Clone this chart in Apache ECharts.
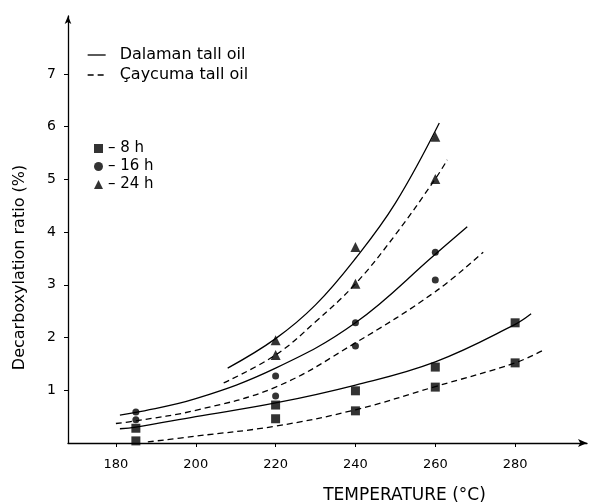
<!DOCTYPE html>
<html><head><meta charset="utf-8">
<script src="https://cdn.jsdelivr.net/npm/echarts@6/dist/echarts.min.js"></script>
<style>html,body{margin:0;padding:0;background:#fff}#c{width:589px;height:504px}</style>
</head><body><div id="c"></div>
<script>
// Measured points (temperature °C, decarboxylation ratio %)
const temps = [185, 220, 240, 260, 280];
const dal8 = [0.28, 0.72, 0.99, 1.44, 2.28];
const cay8 = [0.04, 0.46, 0.61, 1.06, 1.52];
const temps16 = [185, 220, 240, 260];
const dal16 = [0.59, 1.27, 2.28, 3.62];
const cay16 = [0.44, 0.89, 1.84, 3.09];
const temps24 = [220, 240, 260];
const dal24 = [1.95, 3.72, 5.81];
const cay24 = [1.67, 3.02, 5.01];

// Fitted curves
const curveDal24T = [208, 220, 230, 240, 250, 261];
const curveDal24V = [1.42, 1.98, 2.62, 3.5, 4.55, 6.07];
const curveCay24T = [207, 220, 230, 240, 250, 260, 263];
const curveCay24V = [1.14, 1.67, 2.3, 3.02, 3.95, 5.01, 5.37];
const curveDal16T = [181, 185, 200, 220, 240, 260, 268];
const curveDal16V = [0.53, 0.58, 0.84, 1.42, 2.28, 3.58, 4.1];
const curveCay16T = [180, 185, 200, 220, 240, 260, 272];
const curveCay16V = [0.37, 0.42, 0.62, 1.06, 1.9, 2.87, 3.62];
const curveDal8T = [181, 185, 200, 220, 240, 260, 280, 284];
const curveDal8V = [0.27, 0.3, 0.5, 0.76, 1.1, 1.54, 2.25, 2.45];
const curveCay8T = [188, 200, 220, 240, 260, 280, 287];
const curveCay8V = [0.02, 0.13, 0.32, 0.63, 1.07, 1.52, 1.76];

const xTicks = [180, 200, 220, 240, 260, 280];
const yTicks = [1, 2, 3, 4, 5, 6, 7];

const zip = (a, b) => a.map((v, i) => [v, b[i]]);
const FONT = 'DejaVu Sans';
const DAL = 'Dalaman tall oil', CAY = 'Çaycuma tall oil';

function curve(name, t, v, dashed) {
  return {
    type: 'line', name, data: zip(t, v), smooth: 0.4, symbol: 'none',
    lineStyle: { color: '#000', width: 1.3, type: dashed ? [6, 4] : 'solid' },
    itemStyle: { color: '#000' }, z: 2
  };
}
function pts(name, sym, size, t, a, b) {
  return {
    type: 'scatter', name, symbol: sym, symbolSize: size,
    data: zip(t, a).concat(zip(t, b)),
    itemStyle: { color: '#000' }, z: 3
  };
}

const chart = echarts.init(document.getElementById('c'));
chart.setOption({
  animation: false,
  backgroundColor: '#fff',
  textStyle: { fontFamily: FONT, color: '#000' },
  grid: { left: 68, top: 16, width: 519, height: 427, containLabel: false, outerBoundsMode: 'none' },
  legend: [
    {
      data: [DAL, CAY], orient: 'vertical', left: 82, top: 42, itemGap: 4,
      itemWidth: 18, itemHeight: 16,
      itemStyle: { opacity: 0 },
      lineStyle: { width: 1.3 },
      textStyle: { fontFamily: FONT, fontSize: 16, color: '#000', padding: [0, 0, 0, 9] }
    },
    {
      data: [
        { name: '– 8 h', icon: 'rect' },
        { name: '– 16 h', icon: 'circle' },
        { name: '– 24 h', icon: 'triangle' }
      ],
      orient: 'vertical', left: 89, top: 136, itemGap: 3,
      itemWidth: 9, itemHeight: 9,
      textStyle: { fontFamily: FONT, fontSize: 15, color: '#000' }
    }
  ],
  xAxis: {
    type: 'value', min: 168, max: 298,
    name: 'TEMPERATURE (°C)', nameLocation: 'middle', nameGap: 44,
    nameTextStyle: { fontFamily: FONT, fontSize: 17, color: '#000', padding: [0, 0, 0, 154] },
    splitLine: { show: false },
    axisLine: { lineStyle: { color: '#000', width: 1.3 }, symbol: ['none', 'arrow'], symbolSize: [6, 9] },
    axisTick: { customValues: xTicks, length: 4, lineStyle: { color: '#000' } },
    axisLabel: { customValues: xTicks, margin: 15, fontSize: 13, color: '#000', fontFamily: FONT }
  },
  yAxis: {
    type: 'value', min: 0, max: 8.1,
    name: 'Decarboxylation ratio (%)', nameLocation: 'middle', nameGap: 40, nameRotate: 90,
    nameTextStyle: { fontFamily: FONT, fontSize: 16, color: '#000', padding: [0, 76, 0, 0] },
    splitLine: { show: false },
    axisLine: { lineStyle: { color: '#000', width: 1.3 }, symbol: ['none', 'arrow'], symbolSize: [5, 8] },
    axisTick: { customValues: yTicks, length: 4, lineStyle: { color: '#000' } },
    axisLabel: { customValues: yTicks, margin: 12, fontSize: 14, color: '#000', fontFamily: FONT }
  },
  series: [
    curve(DAL, curveDal24T, curveDal24V, false),
    curve(CAY, curveCay24T, curveCay24V, true),
    curve(DAL, curveDal16T, curveDal16V, false),
    curve(CAY, curveCay16T, curveCay16V, true),
    curve(DAL, curveDal8T, curveDal8V, false),
    curve(CAY, curveCay8T, curveCay8V, true),
    pts('– 8 h', 'rect', 9, temps, dal8, cay8),
    pts('– 16 h', 'circle', 7, temps16, dal16, cay16),
    pts('– 24 h', 'triangle', 10, temps24, dal24, cay24)
  ]
});
</script></body></html>
